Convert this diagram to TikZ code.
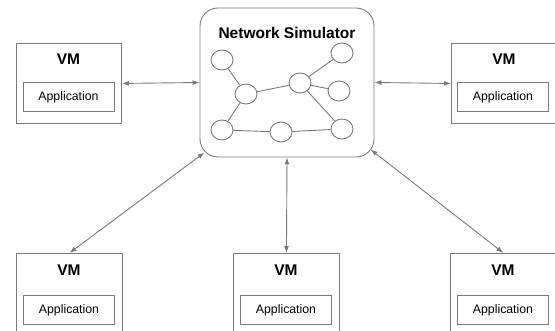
\documentclass[tikz,border=0pt]{standalone}
\usepackage{fontspec}
\setmainfont{Liberation Sans}
\usetikzlibrary{arrows.meta,shapes.geometric}
\definecolor{ln}{HTML}{7A7A7A}
\begin{document}
\begin{tikzpicture}[x=1pt,y=-1pt,
 vmbox/.style={draw=ln,line width=0.9pt,rectangle,anchor=north west,inner sep=0,minimum width=105pt,minimum height=80pt},
 appbox/.style={draw=ln,line width=0.9pt,rectangle,inner sep=0,minimum width=91pt,minimum height=28.5pt,font=\fontsize{12.3}{14}\selectfont},
 vmlabel/.style={font=\fontsize{15.5}{18}\selectfont\bfseries},
 nd/.style={draw=ln,line width=0.9pt,ellipse,minimum width=22pt,minimum height=20pt,inner sep=0},
 lk/.style={draw=ln,line width=0.9pt},
 biarrow/.style={draw=ln,line width=0.9pt,{Latex[length=7pt,width=5pt]}-{Latex[length=7pt,width=5pt]}}
]
\useasboundingbox (0,0) rectangle (555,331);
\clip (0,0) rectangle (555,331);

% network simulator
\node[draw=ln,line width=0.9pt,rectangle,rounded corners=18pt,minimum width=174pt,minimum height=149pt,inner sep=0] (sim) at (287,82.5) {};
\node[vmlabel] (simt) at (287,33) {Network Simulator};
\node[nd] (c1) at (222,60) {};
\node[nd] (c2) at (246,94) {};
\node[nd] (c3) at (300,83) {};
\node[nd] (c4) at (342,53) {};
\node[nd] (c5) at (339,91) {};
\node[nd] (c6) at (222,130) {};
\node[nd] (c7) at (281,132) {};
\node[nd] (c8) at (342,129) {};
\draw[lk] (c1) -- (c2);
\draw[lk] (c2) -- (c3);
\draw[lk] (c3) -- (c4);
\draw[lk] (c3) -- (c5);
\draw[lk] (c3) -- (c8);
\draw[lk] (c2) -- (c6);
\draw[lk] (c6) -- (c7);
\draw[lk] (c7) -- (c8);

% top VMs
\node[vmbox] (vm1) at (16,43) {};
\node[vmlabel] (vm1t) at (68.5,59) {VM};
\node[appbox] (app1) at (68.5,97) {Application};

\node[vmbox] (vm2) at (451,43) {};
\node[vmlabel] (vm2t) at (504,59) {VM};
\node[appbox] (app2) at (503,97) {Application};

% bottom VMs
\node[vmbox,minimum width=106pt] (vm4) at (16,253) {};
\node[vmlabel] (vm4t) at (69,270) {VM};
\node[appbox] (app4) at (69,310) {Application};

\node[vmbox,minimum width=106pt] (vm5) at (233,253) {};
\node[vmlabel] (vm5t) at (286,270) {VM};
\node[appbox] (app5) at (286,310) {Application};

\node[vmbox,minimum width=106pt] (vm6) at (450,253) {};
\node[vmlabel] (vm6t) at (503,270) {VM};
\node[appbox] (app6) at (503,310) {Application};

% connectors
\draw[biarrow] (vm1.east) -- (sim.west);
\draw[biarrow] (sim.east) -- (vm2.west);
\draw[biarrow] ([shift={(5,-5)}]sim.south west) -- (vm4.north);
\draw[biarrow] (sim.south) -- (vm5.north);
\draw[biarrow] ([shift={(-4,-8)}]sim.south east) -- (vm6.north);
\end{tikzpicture}
\end{document}
